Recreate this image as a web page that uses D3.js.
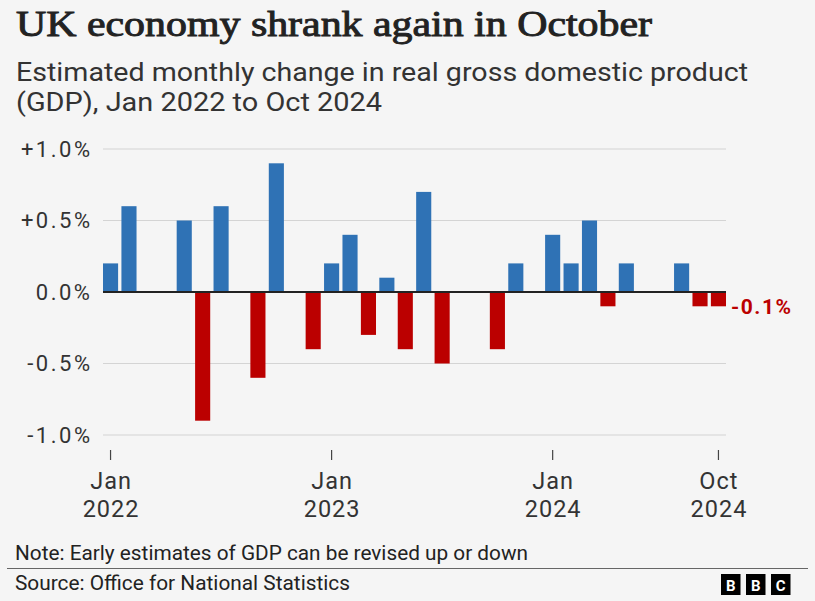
<!DOCTYPE html>
<html>
<head>
<meta charset="utf-8">
<script src="https://cdn.jsdelivr.net/npm/d3@7"></script>
<style>
html,body{margin:0;padding:0;background:#f5f5f5;}
svg{display:block;}
text{font-family:Roboto,"Noto Sans",sans-serif;}
</style>
</head>
<body>
<svg id="chart" width="815" height="601"></svg>
<script>
const months = ["Jan 2022","Feb 2022","Mar 2022","Apr 2022","May 2022","Jun 2022","Jul 2022","Aug 2022","Sep 2022","Oct 2022","Nov 2022","Dec 2022",
"Jan 2023","Feb 2023","Mar 2023","Apr 2023","May 2023","Jun 2023","Jul 2023","Aug 2023","Sep 2023","Oct 2023","Nov 2023","Dec 2023",
"Jan 2024","Feb 2024","Mar 2024","Apr 2024","May 2024","Jun 2024","Jul 2024","Aug 2024","Sep 2024","Oct 2024"];
const gdpChange = [0.2,0.6,0,0,0.5,-0.9,0.6,0,-0.6,0.9,0,-0.4,
0.2,0.4,-0.3,0.1,-0.4,0.7,-0.5,0,0,-0.4,0.2,0,
0.4,0.2,0.5,-0.1,0.2,0,0,0.2,-0.1,-0.1];
const yTicks = [1.0,0.5,0,-0.5,-1.0];
const yTickLabels = ["+1.0%","+0.5%","0.0%","-0.5%","-1.0%"];
const xTickMonths = ["Jan 2022","Jan 2023","Jan 2024","Oct 2024"];
const xTickLabels = [["Jan","2022"],["Jan","2023"],["Jan","2024"],["Oct","2024"]];
const lastLabel = "-0.1%";

const svg = d3.select("#chart");
const W = 815, H = 601;
svg.append("rect").attr("width",W).attr("height",H).attr("fill","#f5f5f5");

function fitText(sel, w){
  sel.attr("textLength", w).attr("lengthAdjust","spacingAndGlyphs");
}

// Titles
const t = svg.append("text").attr("x",16).attr("y",36)
  .style("font-family","'Liberation Serif','DejaVu Serif',serif")
  .style("font-size","35px").attr("fill","#222")
  .attr("stroke","#222").attr("stroke-width",0.9)
  .text("UK economy shrank again in October");
fitText(t, 636);
const s1 = svg.append("text").attr("x",16).attr("y",81)
  .style("font-size","25px").attr("fill","#333")
  .text("Estimated monthly change in real gross domestic product");
fitText(s1, 732);
const s2 = svg.append("text").attr("x",16).attr("y",111)
  .style("font-size","25px").attr("fill","#333")
  .text("(GDP), Jan 2022 to Oct 2024");
fitText(s2, 366);

// Scales
const x = d3.scaleBand().domain(months).range([103,726]).paddingInner(0.18).paddingOuter(0);
const y = d3.scaleLinear().domain([-1,1]).range([435,149]);

// Gridlines
svg.append("g").selectAll("line").data(yTicks.filter(d=>d!==0)).join("line")
  .attr("x1",103).attr("x2",726)
  .attr("y1",d=>y(d)).attr("y2",d=>y(d))
  .attr("stroke","#d4d4d4").attr("stroke-width",1.2);

// Y labels
svg.append("g").selectAll("text").data(yTicks).join("text")
  .attr("x",92.5).attr("y",d=>y(d)).attr("dy","0.36em").attr("text-anchor","end")
  .style("font-size","22px").style("letter-spacing","2.5px").attr("fill","#333")
  .text((d,i)=>yTickLabels[i]);

// Bars
svg.append("g").selectAll("rect").data(months.map((m,i)=>({m,v:gdpChange[i]})).filter(d=>d.v!==0)).join("rect")
  .attr("x",d=>x(d.m)).attr("width",x.bandwidth())
  .attr("y",d=>y(Math.max(0,d.v))).attr("height",d=>Math.abs(y(d.v)-y(0)))
  .attr("fill",d=>d.v>0?"#2f72b5":"#bb0000");

// Zero line
svg.append("line").attr("x1",103).attr("x2",726).attr("y1",y(0)).attr("y2",y(0))
  .attr("stroke","#222").attr("stroke-width",2);

// Last value label
svg.append("text").attr("x",731).attr("y",y(-0.1)).attr("dy","0.36em")
  .style("font-size","21px").style("font-weight","bold").style("letter-spacing","1.5px").attr("fill","#bb0000")
  .text(lastLabel);

// X ticks
const xt = svg.append("g").selectAll("g").data(xTickMonths).join("g")
  .attr("transform",d=>`translate(${x(d)+x.bandwidth()/2},0)`);
xt.append("line").attr("y1",450).attr("y2",460).attr("stroke","#444").attr("stroke-width",1.2);
xt.append("text").attr("x",0.5).attr("y",489).attr("text-anchor","middle").style("font-size","23.5px").style("letter-spacing","1px").attr("fill","#333")
  .text((d,i)=>xTickLabels[i][0]);
xt.append("text").attr("x",0.5).attr("y",517).attr("text-anchor","middle").style("font-size","23.5px").style("letter-spacing","1px").attr("fill","#333")
  .text((d,i)=>xTickLabels[i][1]);

// Note & source
const note = svg.append("text").attr("x",15).attr("y",560).style("font-size","19.5px").attr("fill","#222")
  .text("Note: Early estimates of GDP can be revised up or down");
fitText(note, 513);
svg.append("line").attr("x1",7).attr("x2",808).attr("y1",568.5).attr("y2",568.5).attr("stroke","#666").attr("stroke-width",1);
const src = svg.append("text").attr("x",15).attr("y",590).style("font-size","19.5px").attr("fill","#222")
  .text("Source: Office for National Statistics");
fitText(src, 335);

// BBC logo
const logo = svg.append("g").attr("transform","translate(721,574)");
["B","B","C"].forEach((c,i)=>{
  logo.append("rect").attr("x",i*25).attr("y",0).attr("width",19.5).attr("height",21).attr("fill","#000");
  logo.append("text").attr("x",i*25+9.75).attr("y",16.5).attr("text-anchor","middle")
    .style("font-size","15px").style("font-weight","bold").attr("fill","#fff").text(c);
});
</script>
</body>
</html>
